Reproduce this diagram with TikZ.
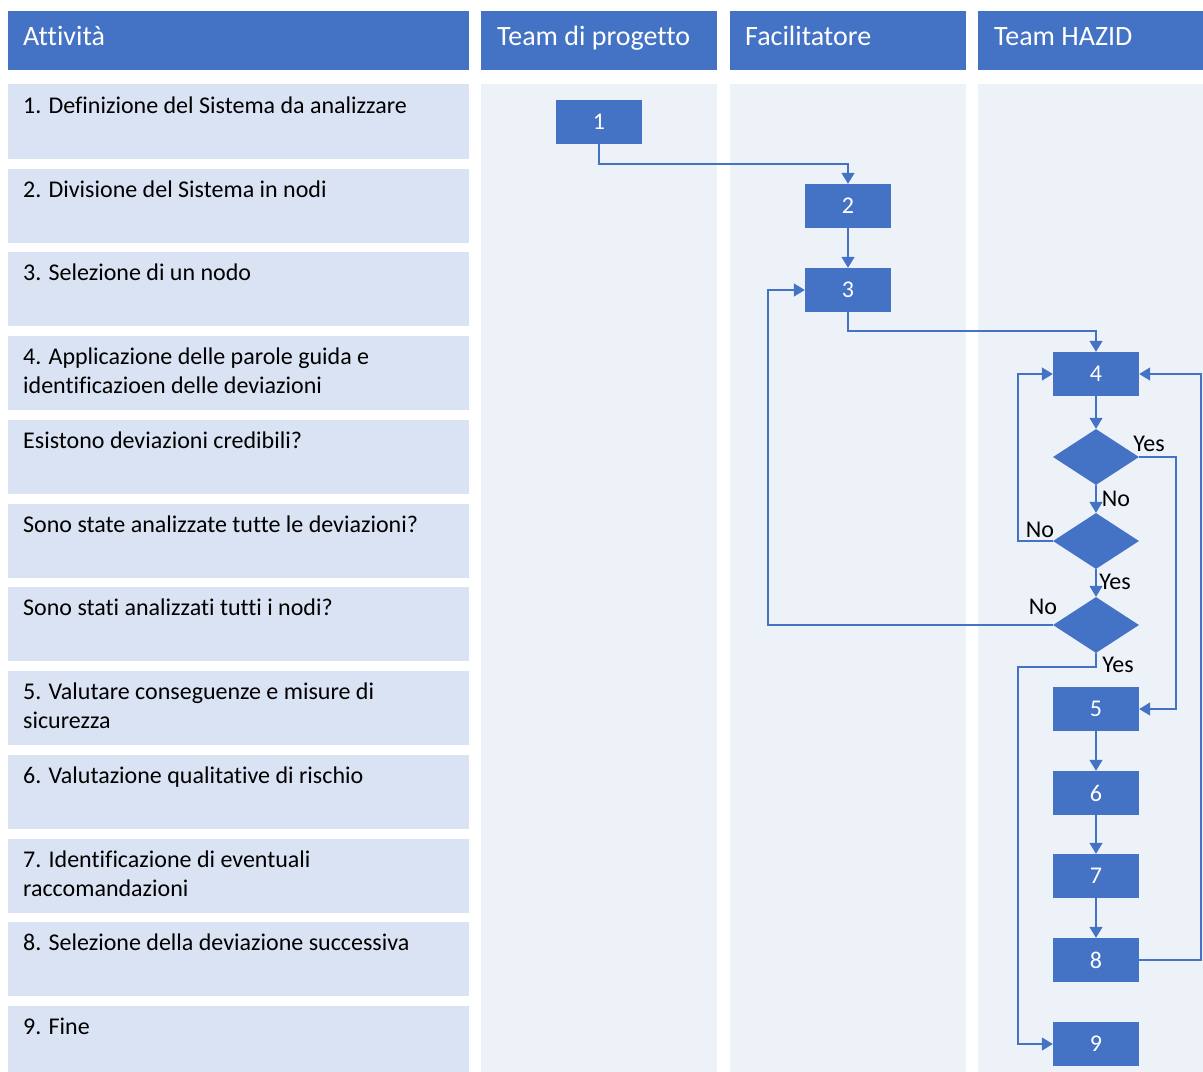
\documentclass[tikz,border=0pt]{standalone}
\usepackage{fontspec}
\setmainfont[Ligatures=NoCommon]{Carlito}
\usetikzlibrary{shapes.geometric,arrows.meta}
\definecolor{hdr}{HTML}{4472C4}
\definecolor{rowc}{HTML}{DAE3F3}
\definecolor{lanec}{HTML}{EDF2F9}
\tikzset{
  px/.style={x=1bp,y=-1bp},
  hdrbox/.style={fill=hdr,draw=none},
  hdrtext/.style={anchor=base west,inner sep=0,text=white,font=\fontsize{28bp}{32bp}\selectfont},
  rowbox/.style={fill=rowc,draw=none},
  rowtext/.style={anchor=north west,inner sep=0,align=left,font=\fontsize{24bp}{29bp}\selectfont},
  stepbox/.style={fill=hdr,draw=none,minimum width=86bp,minimum height=44bp,inner sep=0,text=white,font=\fontsize{24bp}{28bp}\selectfont},
  decbox/.style={diamond,fill=hdr,draw=none,minimum width=86bp,minimum height=56bp,inner sep=0},
  conn/.style={draw=hdr,line width=1.4bp,-{Triangle[length=11bp,width=13bp]}},
  lbl/.style={inner sep=0,font=\fontsize{24bp}{28bp}\selectfont}
}
\begin{document}
\begin{tikzpicture}[px]
\useasboundingbox[fill=white] (0,0) rectangle (1203,1072);
% headers
\fill[hdrbox] (8,11) rectangle (469,70);
\fill[hdrbox] (481,11) rectangle (717,70);
\fill[hdrbox] (730,11) rectangle (966,70);
\fill[hdrbox] (978,11) rectangle (1203,70);
\node[hdrtext] (h1) at (23,45) {Attività};
\node[hdrtext] (h2) at (497,45) {Team di progetto};
\node[hdrtext] (h3) at (745,45) {Facilitatore};
\node[hdrtext] (h4) at (994,45) {Team HAZID};
% lanes
\fill[lanec] (481,84) rectangle (717,1072);
\fill[lanec] (730,84) rectangle (966,1072);
\fill[lanec] (978,84) rectangle (1203,1072);
% rows
\foreach \t/\b in {84/159,169/243,252/326,336/410,420/494,504/578,587/661,671/745,755/829,839/913,922/996,1006/1072}{
  \fill[rowc] (8,\t) rectangle (469,\b);
}
\node[rowtext] (r1) at (23,97) {1. Definizione del Sistema da analizzare};
\node[rowtext] (r2) at (23,181) {2. Divisione del Sistema in nodi};
\node[rowtext] (r3) at (23,264) {3. Selezione di un nodo};
\node[rowtext] (r4) at (23,348) {4. Applicazione delle parole guida e\\identificazioen delle deviazioni};
\node[rowtext] (r5) at (23,432) {Esistono deviazioni credibili?};
\node[rowtext] (r6) at (23,516) {Sono state analizzate tutte le deviazioni?};
\node[rowtext] (r7) at (23,599) {Sono stati analizzati tutti i nodi?};
\node[rowtext] (r8) at (23,683) {5. Valutare conseguenze e misure di\\sicurezza};
\node[rowtext] (r9) at (23,767) {6. Valutazione qualitative di rischio};
\node[rowtext] (r10) at (23,851) {7. Identificazione di eventuali\\raccomandazioni};
\node[rowtext] (r11) at (23,934) {8. Selezione della deviazione successiva};
\node[rowtext] (r12) at (23,1018) {9. Fine};
% steps
\node[stepbox] (s1) at (599,122) {1};
\node[stepbox] (s2) at (848,206) {2};
\node[stepbox] (s3) at (848,290) {3};
\node[stepbox] (s4) at (1096,374) {4};
\node[decbox] (d1) at (1096,457) {};
\node[decbox] (d2) at (1096,541) {};
\node[decbox] (d3) at (1096,625) {};
\node[stepbox] (s5) at (1096,709) {5};
\node[stepbox] (s6) at (1096,793) {6};
\node[stepbox] (s7) at (1096,876) {7};
\node[stepbox] (s8) at (1096,960) {8};
\node[stepbox] (s9) at (1096,1044) {9};
% connectors
\draw[conn] (s1.south) |- (724,164) -| (s2.north);
\draw[conn] (s2) -- (s3);
\draw[conn] (s3.south) |- (972,331) -| (s4.north);
\draw[conn] (s4) -- (d1);
\draw[conn] (d1.east) -| (1176,600) |- (s5.east);
\draw[conn] (d1) -- (d2);
\draw[conn] (d2.west) -| (1018,450) |- (s4.west);
\draw[conn] (d2) -- (d3);
\draw[conn] (d3.west) -| (768,450) |- (s3.west);
\draw[conn] (d3.south) |- (1050,667) -| (1018,900) |- (s9.west);
\draw[conn] (s5) -- (s6);
\draw[conn] (s6) -- (s7);
\draw[conn] (s7) -- (s8);
\draw[conn] (s8.east) -| (1201,600) |- (s4.east);
% labels
\node[lbl] (l1) at (1149,444) {Yes};
\node[lbl] (l2) at (1116,499) {No};
\node[lbl] (l3) at (1040,530) {No};
\node[lbl] (l4) at (1115,582) {Yes};
\node[lbl] (l5) at (1043,607) {No};
\node[lbl] (l6) at (1118,665) {Yes};
\end{tikzpicture}
\end{document}
